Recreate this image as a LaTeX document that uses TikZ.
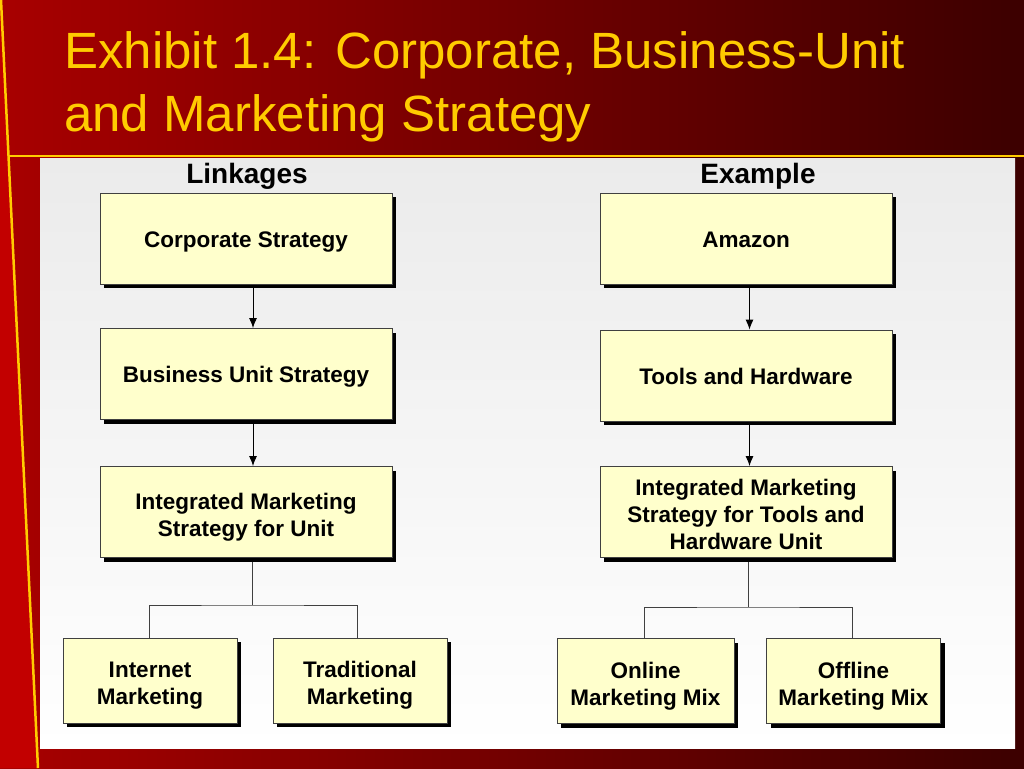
\documentclass[tikz,border=0pt]{standalone}
\usepackage{fontspec}
\setmainfont{Liberation Sans}
\usetikzlibrary{shadows,arrows.meta}
\definecolor{bgL}{HTML}{A80000}
\definecolor{bgR}{HTML}{3C0000}
\definecolor{bright}{HTML}{C20000}
\definecolor{gold}{HTML}{FFCC00}
\definecolor{boxfill}{HTML}{FFFFCC}
\definecolor{panelTop}{HTML}{EBEBEB}
\newcommand{\topstrut}{\rule{0pt}{26pt}}
\begin{document}
\begin{tikzpicture}[x=1pt,y=-1pt,
  box/.style={draw=black!75, line width=0.9pt, fill=boxfill, minimum width=292pt, minimum height=91pt, inner sep=0pt, align=center, font=\fontsize{22.5}{27}\selectfont\bfseries,
    execute at begin node={\rule{0pt}{22pt}}, execute at end node={\rule[-5pt]{0pt}{5pt}},
    drop shadow={shadow xshift=4pt, shadow yshift=-4pt, fill=black, opacity=1}},
  smallbox/.style={box, minimum width=174pt, minimum height=85pt},
  arr/.style={-{Latex[length=10pt,width=8pt]}, draw=black, line width=0.9pt},
  link/.style={draw=black!75, line width=0.8pt},
  head/.style={font=\fontsize{28}{32}\selectfont\bfseries, inner sep=0pt, anchor=base},
  title/.style={text=gold, font=\fontsize{51}{53}\selectfont, inner sep=0pt, anchor=base west}]
\useasboundingbox (0,0) rectangle (1024,768);
% background
\shade[left color=bgL, right color=bgR] (0,0) rectangle (1024,768);
\fill[bright] (0,0) -- (1,0) -- (38,768) -- (0,768) -- cycle;
\shade[top color=panelTop, bottom color=white] (40,158) rectangle (1015,748);
\draw[gold, line width=2.5pt] (8,156) -- (1024,156);
\draw[gold, line width=2.5pt] (1,0) -- (38,768);
% title
\node[title] (t1) at (64,68.5) {Exhibit 1.4: Corporate, Business-Unit};
\node[title] (t2) at (64,131) {and Marketing Strategy};
% headings
\node[head] (lk) at (247,183) {Linkages};
\node[head] (ex) at (758,183) {Example};
% left column
\node[box] (cs) at (246,238.5) {Corporate Strategy};
\node[box] (bus) at (246,374) {Business Unit Strategy};
\node[box] (ims) at (246,512) {\topstrut Integrated Marketing\\Strategy for Unit};
\node[smallbox] (im) at (150,680.5) {\topstrut Internet\\Marketing};
\node[smallbox] (tm) at (360,680.5) {\topstrut Traditional\\Marketing};
% right column
\node[box] (amz) at (746,238.5) {Amazon};
\node[box] (th) at (746,375.5) {Tools and Hardware};
\node[box] (imt) at (746,512) {\topstrut Integrated Marketing\\Strategy for Tools and\\Hardware Unit};
\node[smallbox, minimum width=177pt] (omm) at (645.5,681) {\topstrut Online\\Marketing Mix};
\node[smallbox] (ofm) at (853.5,681) {\topstrut Offline\\Marketing Mix};
% arrows
\draw[arr] ([xshift=7pt,yshift=-4pt]cs.south) -- ([xshift=7pt]bus.north);
\draw[arr] ([xshift=7pt,yshift=-4pt]bus.south) -- ([xshift=7pt]ims.north);
\draw[arr] ([xshift=3.5pt,yshift=-4pt]amz.south) -- ([xshift=3.5pt]th.north);
\draw[arr] ([xshift=3.5pt,yshift=-4pt]th.south) -- ([xshift=3.5pt]imt.north);
% tree connectors
\coordinate (jL) at (252,605);
\coordinate (jR) at (748,607);
\draw[link] ([xshift=6pt,yshift=-4pt]ims.south) -- (jL);
\draw[link] ([xshift=-1pt]im.north) |- (jL) -| ([xshift=-3pt]tm.north);
\draw[link] ([xshift=2pt,yshift=-4pt]imt.south) -- (jR);
\draw[link] ([xshift=-1.5pt]omm.north) |- (jR) -| ([xshift=-1.5pt]ofm.north);
\end{tikzpicture}
\end{document}
